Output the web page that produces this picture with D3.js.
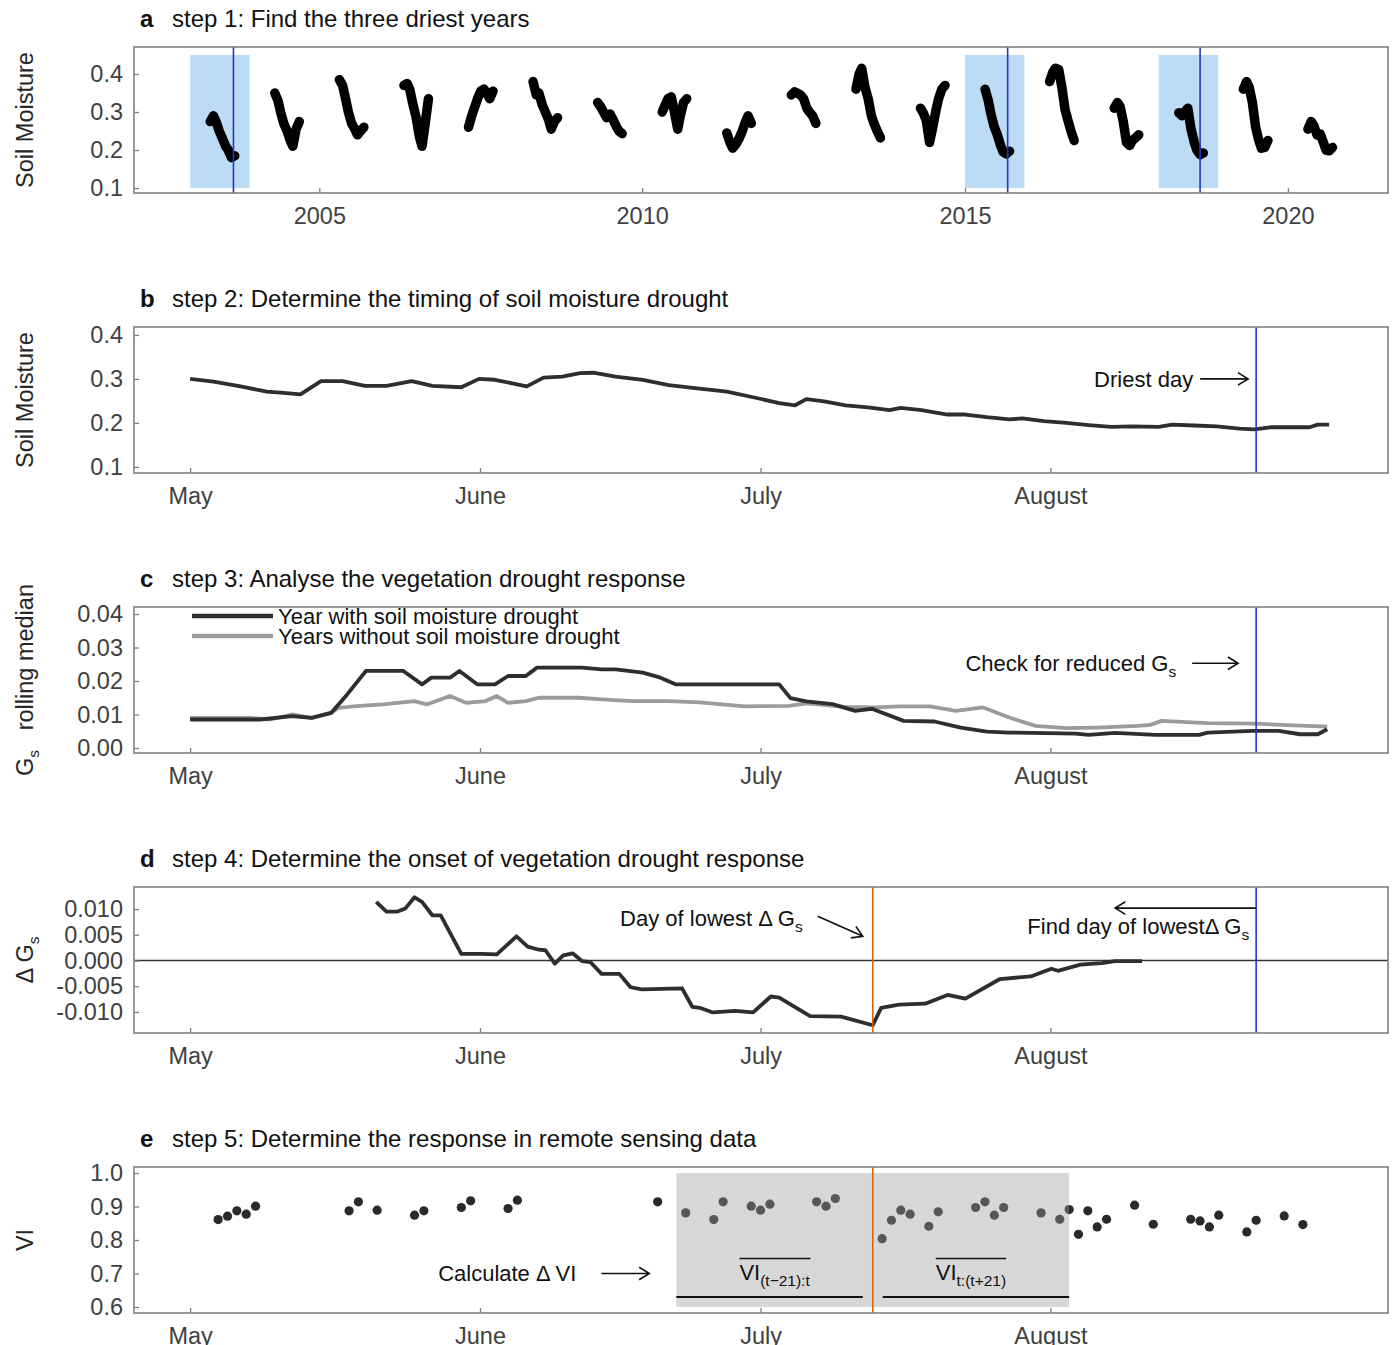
<!DOCTYPE html>
<html>
<head>
<meta charset="utf-8">
<script src="https://cdn.jsdelivr.net/npm/d3@7"></script>
<style>
  body { margin: 0; background: #fff; }
  svg { display: block; font-family: "Liberation Sans", Arial, sans-serif; }
</style>
</head>
<body>
<script>
// ---- panel a: soil moisture per year (May-Aug samples, fraction of year) ----
const yearsA = [2003, 2004, 2005, 2006, 2007, 2008, 2009, 2010, 2011, 2012, 2013, 2014, 2015, 2016, 2017, 2018, 2019, 2020];
const segOffsets = [0.31, 0.36, 0.40, 0.45, 0.50, 0.55, 0.59, 0.64, 0.69];
const soilA = [
  [0.275, 0.29, 0.275, 0.25, 0.23, 0.21, 0.20, 0.18, 0.185],
  [0.35, 0.33, 0.30, 0.27, 0.25, 0.225, 0.21, 0.255, 0.275],
  [0.385, 0.37, 0.34, 0.30, 0.27, 0.255, 0.24, 0.25, 0.26],
  [0.37, 0.375, 0.36, 0.32, 0.285, 0.235, 0.21, 0.27, 0.335],
  [0.26, 0.29, 0.31, 0.335, 0.355, 0.36, 0.35, 0.335, 0.355],
  [0.38, 0.345, 0.35, 0.32, 0.30, 0.28, 0.255, 0.275, 0.285],
  [0.325, 0.313, 0.30, 0.285, 0.295, 0.28, 0.265, 0.25, 0.243],
  [0.30, 0.32, 0.335, 0.34, 0.30, 0.255, 0.29, 0.325, 0.335],
  [0.245, 0.22, 0.205, 0.215, 0.23, 0.25, 0.27, 0.29, 0.27],
  [0.345, 0.353, 0.35, 0.345, 0.335, 0.31, 0.30, 0.29, 0.27],
  [0.36, 0.40, 0.415, 0.365, 0.335, 0.29, 0.27, 0.25, 0.232],
  [0.31, 0.295, 0.278, 0.22, 0.26, 0.305, 0.335, 0.36, 0.37],
  [0.36, 0.33, 0.295, 0.262, 0.24, 0.212, 0.195, 0.19, 0.197],
  [0.38, 0.405, 0.415, 0.412, 0.365, 0.305, 0.28, 0.25, 0.225],
  [0.31, 0.325, 0.315, 0.275, 0.22, 0.212, 0.225, 0.232, 0.24],
  [0.298, 0.29, 0.30, 0.31, 0.255, 0.22, 0.20, 0.188, 0.192],
  [0.36, 0.38, 0.365, 0.325, 0.26, 0.225, 0.205, 0.207, 0.225],
  [0.255, 0.275, 0.265, 0.24, 0.242, 0.22, 0.20, 0.198, 0.207]
];
const dryYears = [2003, 2015, 2018];
const driestA = [2003.67, 2015.66, 2018.64];
const yearTicks = [2005, 2010, 2015, 2020];

// ---- panels b-e: days counted from 1 May ----
const monthDays = [0, 31, 61, 92];
const driestDay = 114;
const lowestDay = 73;
const windowDays = 21;

const bDays = [0, 2.5, 5.4, 8.2, 10, 11.8, 14, 16.3, 18.7, 21, 23.7, 25.9, 29, 30.9, 32.6, 36, 37.8, 39.8, 41.7, 43.1, 45.5, 48.4, 51.2, 54, 57.4, 60.7, 63, 64.7, 65.9, 67.8, 70.1, 72.5, 74.8, 76, 78.2, 81, 82.9, 85.2, 87.6, 89, 91.3, 93.7, 96.1, 98.5, 100.8, 103.6, 105, 107.4, 109.8, 112.2, 113.8, 115.5, 117.3, 119.7, 120.6, 121.8];
const bSoil = [0.300, 0.294, 0.283, 0.271, 0.268, 0.265, 0.295, 0.295, 0.284, 0.284, 0.295, 0.284, 0.281, 0.300, 0.298, 0.283, 0.303, 0.305, 0.313, 0.314, 0.305, 0.298, 0.286, 0.279, 0.271, 0.256, 0.245, 0.240, 0.254, 0.249, 0.240, 0.235, 0.229, 0.234, 0.229, 0.219, 0.219, 0.213, 0.208, 0.210, 0.204, 0.200, 0.195, 0.191, 0.192, 0.191, 0.196, 0.194, 0.192, 0.187, 0.185, 0.190, 0.190, 0.190, 0.196, 0.196];

const cDroughtDays = [0, 7.5, 10.9, 13, 15.1, 16.8, 18.8, 22.8, 24.8, 25.8, 27.8, 28.8, 30.7, 32.6, 34, 35.9, 37.1, 41.9, 44, 45.5, 48.4, 50.3, 51.9, 61, 63, 64.2, 65.9, 68.7, 71.1, 72.9, 76.3, 79.6, 82.4, 85.2, 87.6, 94.7, 96.1, 98.9, 103.2, 107.9, 108.8, 113.6, 116.4, 118.7, 120.6, 121.6];
const cDrought = [0.0085, 0.0085, 0.0095, 0.009, 0.0105, 0.016, 0.023, 0.023, 0.019, 0.021, 0.021, 0.023, 0.019, 0.019, 0.0215, 0.0215, 0.024, 0.024, 0.0235, 0.0235, 0.0225, 0.021, 0.019, 0.019, 0.019, 0.0149, 0.0139, 0.0131, 0.0111, 0.0117, 0.0081, 0.0079, 0.0061, 0.0049, 0.0046, 0.0043, 0.0039, 0.0045, 0.0039, 0.0039, 0.0046, 0.0051, 0.0051, 0.0041, 0.0041, 0.0056];
const cNormalDays = [0, 6.4, 8.6, 10.9, 13, 15, 15.9, 17.8, 20.6, 24, 25.3, 27.8, 29.5, 31.6, 32.8, 34, 35.9, 37.3, 41.6, 44, 47.3, 51.1, 54.5, 59.3, 64, 65.9, 70.1, 73.4, 75.8, 79.1, 81.9, 84.8, 87.6, 90.4, 93.7, 97, 101.3, 102.7, 103.9, 108.8, 114, 117.3, 121.6];
const cNormal = [0.009, 0.009, 0.0085, 0.01, 0.009, 0.0105, 0.012, 0.0125, 0.013, 0.014, 0.013, 0.0155, 0.0135, 0.014, 0.0155, 0.0135, 0.014, 0.015, 0.015, 0.0145, 0.014, 0.014, 0.0136, 0.0124, 0.0126, 0.0133, 0.0123, 0.0121, 0.0124, 0.0124, 0.0111, 0.0121, 0.0091, 0.0066, 0.0059, 0.0061, 0.0066, 0.0069, 0.0081, 0.0074, 0.0073, 0.0068, 0.0064];

const dDays = [19.9, 21, 22.1, 23, 24, 24.8, 25.9, 26.8, 29, 31.1, 32.8, 34.9, 36.1, 37.3, 38, 39, 39.9, 40.9, 41.9, 42.8, 44, 45.9, 47.1, 48.3, 52.6, 53.7, 54.5, 55.9, 58.3, 60.2, 62.1, 63, 66.3, 69.6, 73, 73.9, 75.8, 78.6, 81, 82.9, 86.6, 89.9, 92.1, 92.8, 95.2, 97.5, 98.9, 101.8];
const dDelta = [0.0114, 0.0095, 0.0095, 0.0101, 0.0123, 0.0114, 0.0088, 0.0088, 0.0013, 0.0013, 0.0012, 0.0047, 0.0027, 0.0021, 0.002, -0.0006, 0.001, 0.0014, -0.0001, -0.0003, -0.0026, -0.0026, -0.0052, -0.0056, -0.0054, -0.009, -0.0092, -0.0101, -0.0098, -0.0101, -0.007, -0.0072, -0.0108, -0.0109, -0.0126, -0.0092, -0.0086, -0.0084, -0.0067, -0.0074, -0.0036, -0.0031, -0.0016, -0.002, -0.0008, -0.0005, -0.0001, -0.0001];

const eDays = [3, 4, 5, 6, 7, 17, 18, 20, 24, 25, 29, 30, 34, 35, 50, 53, 56, 57, 60, 61, 62, 67, 68, 69, 74, 75, 76, 77, 79, 80, 84, 85, 86, 87, 91, 93, 94, 95, 96, 97, 98, 101, 103, 107, 108, 109, 110, 113, 114, 117, 119];
const eVI = [0.861, 0.871, 0.887, 0.877, 0.901, 0.887, 0.914, 0.889, 0.874, 0.887, 0.897, 0.917, 0.894, 0.919, 0.914, 0.881, 0.861, 0.914, 0.901, 0.889, 0.907, 0.914, 0.901, 0.924, 0.804, 0.859, 0.889, 0.877, 0.841, 0.884, 0.897, 0.914, 0.874, 0.897, 0.881, 0.862, 0.891, 0.817, 0.887, 0.839, 0.862, 0.904, 0.847, 0.862, 0.857, 0.839, 0.874, 0.824, 0.859, 0.872, 0.846];

// ---- layout ----
const width = 1394, height = 1345;
const left = 134, right = 1388, frameH = 146;
const tops = [47, 327, 607, 887, 1167];
const blue = '#2138c4', orange = '#dc5e12', dark = '#2e2e2e';

const svg = d3.select('body').append('svg')
  .attr('width', width).attr('height', height);

const base = Date.UTC(2018, 4, 1);
const dayDate = d => new Date(base + d * 864e5);
const xT = d3.scaleUtc().domain([dayDate(-6), dayDate(128.1)]).range([left, right]);
const xDay = d => xT(dayDate(d));

function styleAxis(g) {
  g.select('.domain').remove();
  g.attr('font-size', 23.5).attr('font-family', null);
  g.selectAll('.tick line').attr('stroke', '#808080').attr('stroke-width', 1.3);
  g.selectAll('.tick text').attr('fill', '#404040');
}

function panel(i, letter, title, yDomain, yTicks, yFmt, yLabel) {
  const top = tops[i], bottom = top + frameH;
  const y = d3.scaleLinear().domain(yDomain).range([bottom, top]);
  const t = svg.append('text').attr('y', top - 20).attr('font-size', 24).attr('fill', '#111');
  t.append('tspan').attr('x', 140).attr('font-weight', 'bold').text(letter);
  t.append('tspan').attr('x', 172).text(title);
  const lab = svg.append('text')
    .attr('transform', `translate(33,${(top + bottom) / 2}) rotate(-90)`)
    .attr('text-anchor', 'middle').attr('font-size', 23.5).attr('fill', '#262626');
  yLabel(lab);
  const g = svg.append('g');
  const finish = (xAxis) => {
    svg.append('rect').attr('x', left).attr('y', top).attr('width', right - left).attr('height', frameH)
      .attr('fill', 'none').attr('stroke', '#808080').attr('stroke-width', 1.6);
    svg.append('g').attr('transform', `translate(${left},0)`)
      .call(d3.axisLeft(y).tickValues(yTicks).tickFormat(yFmt).tickSize(-5).tickPadding(11))
      .call(styleAxis);
    svg.append('g').attr('transform', `translate(0,${bottom})`)
      .call(xAxis.tickSize(-5).tickPadding(14))
      .call(styleAxis);
  };
  return { g, y, top, bottom, finish };
}

function sub(textSel, main, s, after) {
  textSel.append('tspan').text(main);
  textSel.append('tspan').attr('font-size', 15.5).attr('dy', 6).text(s);
  if (after) textSel.append('tspan').attr('dy', -6).text(after);
  return textSel;
}

function arrow(g, x1, y1, x2, y2) {
  const a = Math.atan2(y2 - y1, x2 - x1), L = 12, s = 0.55;
  const p = `M${x1},${y1}L${x2},${y2}` +
    `M${x2 - L * Math.cos(a - s)},${y2 - L * Math.sin(a - s)}L${x2},${y2}` +
    `L${x2 - L * Math.cos(a + s)},${y2 - L * Math.sin(a + s)}`;
  g.append('path').attr('d', p).attr('fill', 'none').attr('stroke', '#111').attr('stroke-width', 1.6);
}

function vline(p, x, color) {
  p.g.append('line').attr('x1', x).attr('x2', x).attr('y1', p.top).attr('y2', p.bottom)
    .attr('stroke', color).attr('stroke-width', 1.6);
}

const monthAxis = () => d3.axisBottom(xT).tickValues(monthDays.map(dayDate)).tickFormat(d3.utcFormat('%B'));
const fmt1 = d3.format('.1f');

// ---- a ----
const xA = d3.scaleLinear().domain([2002.13, 2021.55]).range([left, right]);
const pa = panel(0, 'a', 'step 1: Find the three driest years', [0.087, 0.471], [0.1, 0.2, 0.3, 0.4], fmt1,
  t => t.text('Soil Moisture'));
pa.g.selectAll('rect.dry').data(dryYears).enter().append('rect')
  .attr('x', d => xA(d)).attr('width', d => xA(d + 0.92) - xA(d))
  .attr('y', pa.y(0.45)).attr('height', pa.y(0.1) - pa.y(0.45))
  .attr('fill', '#bcdcf5');
const lineA = d3.line().x(d => xA(d[0])).y(d => pa.y(d[1]));
pa.g.selectAll('path.seg').data(yearsA).enter().append('path')
  .attr('d', (yr, i) => lineA(segOffsets.map((o, j) => [yr + o, soilA[i][j]])))
  .attr('fill', 'none').attr('stroke', '#000').attr('stroke-width', 9.5)
  .attr('stroke-linejoin', 'round').attr('stroke-linecap', 'round');
driestA.forEach(d => vline(pa, xA(d), blue));
pa.finish(d3.axisBottom(xA).tickValues(yearTicks).tickFormat(d3.format('d')));

// ---- b ----
const pb = panel(1, 'b', 'step 2: Determine the timing of soil moisture drought', [0.086, 0.418], [0.1, 0.2, 0.3, 0.4], fmt1,
  t => t.text('Soil Moisture'));
pb.g.append('path')
  .attr('d', d3.line().x(d => xDay(d[0])).y(d => pb.y(d[1]))(bDays.map((d, i) => [d, bSoil[i]])))
  .attr('fill', 'none').attr('stroke', dark).attr('stroke-width', 3.8).attr('stroke-linejoin', 'round');
const xDry = xDay(driestDay);
vline(pb, xDry, blue);
pb.g.append('text').attr('x', xDry - 63).attr('y', pb.y(0.30) + 8).attr('text-anchor', 'end')
  .attr('font-size', 22).attr('fill', '#111').text('Driest day');
arrow(pb.g, xDry - 56, pb.y(0.30), xDry - 8, pb.y(0.30));
pb.finish(monthAxis());

// ---- c ----
const pc = panel(2, 'c', 'step 3: Analyse the vegetation drought response', [-0.0015, 0.0421], [0, 0.01, 0.02, 0.03, 0.04], d3.format('.2f'),
  t => sub(t, 'G', 's', '\u00a0\u00a0 rolling median'));
const lineC = d3.line().x(d => xDay(d[0])).y(d => pc.y(d[1]));
pc.g.append('path').attr('d', lineC(cNormalDays.map((d, i) => [d, cNormal[i]])))
  .attr('fill', 'none').attr('stroke', '#9b9b9b').attr('stroke-width', 3.8).attr('stroke-linejoin', 'round');
pc.g.append('path').attr('d', lineC(cDroughtDays.map((d, i) => [d, cDrought[i]])))
  .attr('fill', 'none').attr('stroke', dark).attr('stroke-width', 3.8).attr('stroke-linejoin', 'round');
vline(pc, xDry, blue);
const legend = [['Year with soil moisture drought', dark], ['Years without soil moisture drought', '#9b9b9b']];
legend.forEach(([label, col], i) => {
  const ly = pc.top + 9 + i * 20;
  pc.g.append('line').attr('x1', 192).attr('x2', 273).attr('y1', ly).attr('y2', ly)
    .attr('stroke', col).attr('stroke-width', 4.5);
  pc.g.append('text').attr('x', 278).attr('y', ly + 8).attr('font-size', 22).attr('fill', '#111').text(label);
});
sub(pc.g.append('text').attr('x', xDry - 80).attr('y', pc.y(0.0253) + 8).attr('text-anchor', 'end')
  .attr('font-size', 22).attr('fill', '#111'), 'Check for reduced G', 's');
arrow(pc.g, xDry - 64, pc.y(0.0253), xDry - 18, pc.y(0.0253));
pc.finish(monthAxis());

// ---- d ----
const pd = panel(3, 'd', 'step 4: Determine the onset of vegetation drought response', [-0.0141, 0.0143],
  [-0.01, -0.005, 0, 0.005, 0.01], d => d.toFixed(3),
  t => sub(t, '\u0394 G', 's'));
pd.g.append('line').attr('x1', left).attr('x2', right).attr('y1', pd.y(0)).attr('y2', pd.y(0))
  .attr('stroke', '#333').attr('stroke-width', 1.5);
pd.g.append('path')
  .attr('d', d3.line().x(d => xDay(d[0])).y(d => pd.y(d[1]))(dDays.map((d, i) => [d, dDelta[i]])))
  .attr('fill', 'none').attr('stroke', dark).attr('stroke-width', 3.8).attr('stroke-linejoin', 'round');
const xLow = xDay(lowestDay);
vline(pd, xLow, orange);
vline(pd, xDry, blue);
sub(pd.g.append('text').attr('x', xLow - 70).attr('y', pd.y(0.0067)).attr('text-anchor', 'end')
  .attr('font-size', 22).attr('fill', '#111'), 'Day of lowest \u0394 G', 's');
arrow(pd.g, xLow - 55, pd.y(0.0086), xLow - 10, pd.y(0.0047));
sub(pd.g.append('text').attr('x', xDry - 7).attr('y', pd.y(0.0051)).attr('text-anchor', 'end')
  .attr('font-size', 22).attr('fill', '#111'), 'Find day of lowest\u0394 G', 's');
arrow(pd.g, xDry, pd.y(0.0102), xDry - 141, pd.y(0.0102));
pd.finish(monthAxis());

// ---- e ----
const pe = panel(4, 'e', 'step 5: Determine the response in remote sensing data', [0.582, 1.018],
  [0.6, 0.7, 0.8, 0.9, 1.0], fmt1, t => t.text('VI'));
pe.g.selectAll('circle').data(eDays).enter().append('circle')
  .attr('cx', d => xDay(d)).attr('cy', (d, i) => pe.y(eVI[i])).attr('r', 4.6)
  .attr('fill', '#2a2a2a');
const ws = xDay(lowestDay - windowDays), we = xDay(lowestDay + windowDays);
pe.g.append('rect').attr('x', ws).attr('width', we - ws)
  .attr('y', pe.y(1.0)).attr('height', pe.y(0.6) - pe.y(1.0))
  .attr('fill', '#9a9a9a').attr('fill-opacity', 0.4);
vline(pe, xLow, orange);
[[ws, xLow - 10], [xLow + 10, we]].forEach(([a, b]) => {
  pe.g.append('line').attr('x1', a).attr('x2', b).attr('y1', pe.y(0.63)).attr('y2', pe.y(0.63))
    .attr('stroke', '#111').attr('stroke-width', 2);
});
[['(t\u221221):t', (ws + xLow) / 2], ['t:(t+21)', (xLow + we) / 2]].forEach(([s, cx]) => {
  const t = pe.g.append('text').attr('x', cx).attr('y', pe.y(0.70) + 7).attr('text-anchor', 'middle')
    .attr('font-size', 22).attr('fill', '#111');
  sub(t, 'VI', s);
  const bb = t.node().getBBox();
  pe.g.append('line').attr('x1', bb.x).attr('x2', bb.x + bb.width)
    .attr('y1', pe.y(0.70) - 15).attr('y2', pe.y(0.70) - 15)
    .attr('stroke', '#111').attr('stroke-width', 1.6);
});
pe.g.append('text').attr('x', ws - 100).attr('y', pe.y(0.70) + 8).attr('text-anchor', 'end')
  .attr('font-size', 22).attr('fill', '#111').text('Calculate \u0394 VI');
arrow(pe.g, ws - 75, pe.y(0.70), ws - 27, pe.y(0.70));
pe.finish(monthAxis());
</script>
</body>
</html>
